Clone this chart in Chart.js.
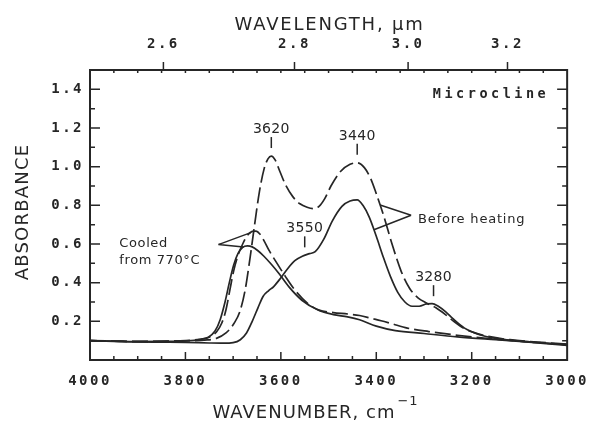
<!DOCTYPE html>
<html>
<head>
<meta charset="utf-8">
<script src="https://cdn.jsdelivr.net/npm/chart.js@4.4.1/dist/chart.umd.min.js"></script>
<style>
  html, body { margin: 0; padding: 0; background: #fff; }
  canvas { display: block; }
</style>
</head>
<body>
<canvas id="spectrum" width="597" height="422"></canvas>
<script>
// axis ticks
const wavenumberTicks = [4000, 3800, 3600, 3400, 3200, 3000];
const wavelengthTicks = [2.6, 2.8, 3.0, 3.2];
const absorbanceTicks = [0.2, 0.4, 0.6, 0.8, 1.0, 1.2, 1.4];

// before heating, dashed trace
const beforeDashWn  = [4000, 3950, 3900, 3850, 3800, 3760, 3735, 3715, 3698, 3686, 3675, 3665, 3655, 3645, 3635, 3627, 3620, 3612, 3602, 3590, 3575, 3560, 3545, 3532, 3520, 3508, 3495, 3475, 3455, 3440, 3425, 3412, 3400, 3385, 3367, 3348, 3330, 3312, 3295, 3275, 3255, 3235, 3215, 3190, 3165, 3120, 3070, 3000];
const beforeDashAbs = [0.100, 0.097, 0.095, 0.096, 0.099, 0.103, 0.112, 0.14, 0.19, 0.25, 0.36, 0.52, 0.70, 0.87, 0.99, 1.04, 1.055, 1.035, 0.975, 0.905, 0.845, 0.808, 0.79, 0.783, 0.795, 0.835, 0.90, 0.975, 1.012, 1.02, 0.995, 0.94, 0.86, 0.75, 0.60, 0.46, 0.37, 0.32, 0.295, 0.27, 0.235, 0.195, 0.162, 0.138, 0.122, 0.105, 0.094, 0.082];

// before heating, solid trace
const beforeSolidWn  = [4000, 3950, 3900, 3850, 3800, 3750, 3720, 3700, 3685, 3672, 3660, 3648, 3637, 3626, 3615, 3600, 3585, 3570, 3555, 3540, 3528, 3510, 3492, 3472, 3455, 3440, 3428, 3415, 3400, 3385, 3370, 3355, 3340, 3325, 3310, 3295, 3283, 3270, 3255, 3240, 3215, 3185, 3150, 3100, 3050, 3000];
const beforeSolidAbs = [0.100, 0.096, 0.093, 0.092, 0.091, 0.088, 0.087, 0.09, 0.105, 0.14, 0.20, 0.27, 0.33, 0.358, 0.38, 0.425, 0.475, 0.515, 0.537, 0.55, 0.56, 0.625, 0.72, 0.795, 0.822, 0.828, 0.80, 0.74, 0.64, 0.53, 0.43, 0.35, 0.30, 0.278, 0.278, 0.29, 0.292, 0.278, 0.25, 0.215, 0.165, 0.132, 0.112, 0.098, 0.088, 0.08];

// cooled from 770 °C, dashed trace
const cooledDashWn  = [4000, 3950, 3900, 3850, 3800, 3770, 3750, 3735, 3724, 3715, 3707, 3699, 3690, 3680, 3670, 3660, 3652, 3644, 3636, 3625, 3608, 3590, 3570, 3545, 3520, 3490, 3460, 3435, 3410, 3390, 3368, 3335, 3290, 3230, 3160, 3100, 3050, 3000];
const cooledDashAbs = [0.100, 0.098, 0.096, 0.097, 0.100, 0.107, 0.118, 0.145, 0.19, 0.26, 0.36, 0.46, 0.54, 0.60, 0.645, 0.665, 0.667, 0.652, 0.62, 0.568, 0.50, 0.43, 0.36, 0.295, 0.258, 0.245, 0.238, 0.23, 0.215, 0.203, 0.188, 0.165, 0.147, 0.128, 0.11, 0.098, 0.088, 0.08];

// cooled from 770 °C, solid trace
const cooledSolidWn  = [4000, 3950, 3900, 3850, 3800, 3770, 3752, 3738, 3727, 3717, 3708, 3699, 3690, 3680, 3670, 3660, 3648, 3636, 3620, 3604, 3583, 3556, 3521, 3490, 3460, 3435, 3400, 3360, 3300, 3230, 3150, 3100, 3050, 3000];
const cooledSolidAbs = [0.100, 0.098, 0.095, 0.096, 0.099, 0.106, 0.118, 0.15, 0.21, 0.30, 0.40, 0.49, 0.55, 0.583, 0.59, 0.585, 0.565, 0.538, 0.495, 0.447, 0.378, 0.309, 0.257, 0.235, 0.223, 0.208, 0.175, 0.152, 0.137, 0.12, 0.105, 0.096, 0.086, 0.076];

// band positions marked on the traces
const peakLabels = ['3620', '3440', '3550', '3280'];
const peakWavenumbers = [3620, 3440, 3550, 3280];
const peakSeries = [0, 0, 1, 1];

const INK = '#262626';
const DASH = [16, 5];

const series = [
  { wn: beforeDashWn, abs: beforeDashAbs, dash: DASH },
  { wn: beforeSolidWn, abs: beforeSolidAbs, dash: [] },
  { wn: cooledDashWn, abs: cooledDashAbs, dash: DASH },
  { wn: cooledSolidWn, abs: cooledSolidAbs, dash: [] }
];

// absorbance of a trace at a given wavenumber (arrays run high -> low)
function absAt(s, x) {
  const wn = s.wn, a = s.abs;
  for (let i = 0; i < wn.length - 1; i++) {
    if (x <= wn[i] && x >= wn[i + 1]) {
      const t = (wn[i] - x) / (wn[i] - wn[i + 1]);
      return a[i] + t * (a[i + 1] - a[i]);
    }
  }
  return a[a.length - 1];
}

function spacedText(ctx, text, x, y, spacing) {
  ctx.letterSpacing = spacing + 'px';
  ctx.fillText(text, x, y);
  ctx.letterSpacing = '0px';
}

const decorations = {
  id: 'decorations',
  beforeDraw(chart) {
    // wide-set lettering for the tick labels
    chart.ctx.letterSpacing = '2.5px';
  },
  afterDraw(chart) {
    const ctx = chart.ctx;
    const area = chart.chartArea;
    const xs = chart.scales.x, ys = chart.scales.y;
    ctx.save();
    ctx.letterSpacing = '0px';
    ctx.strokeStyle = INK;
    ctx.fillStyle = INK;
    ctx.lineCap = 'butt';

    // frame
    ctx.lineWidth = 2;
    ctx.strokeRect(area.left, area.top, area.right - area.left, area.bottom - area.top);

    // tick marks
    ctx.lineWidth = 1.5;
    ctx.beginPath();
    for (let w = 3950; w > 3000; w -= 50) {
      const px = xs.getPixelForValue(w);
      const major = w % 200 === 0;
      ctx.moveTo(px, area.bottom);
      ctx.lineTo(px, area.bottom - (major ? 8 : 4));
      ctx.moveTo(px, area.top);
      ctx.lineTo(px, area.top + 3);
    }
    wavelengthTicks.forEach(l => {
      const px = xs.getPixelForValue(10000 / l);
      ctx.moveTo(px, area.top);
      ctx.lineTo(px, area.top - 8);
    });
    for (let k = 1; k <= 14; k++) {
      const py = ys.getPixelForValue(k / 10);
      const len = k % 2 === 0 ? 10 : 5;
      ctx.moveTo(area.left, py);
      ctx.lineTo(area.left + len, py);
      ctx.moveTo(area.right, py);
      ctx.lineTo(area.right - len, py);
    }
    ctx.stroke();

    // axis titles
    ctx.font = '18px "DejaVu Sans"';
    ctx.textAlign = 'center';
    ctx.textBaseline = 'alphabetic';
    const midX = (area.left + area.right) / 2;
    spacedText(ctx, 'WAVELENGTH, µm', midX + 1, 30, 1.8);

    ctx.save();
    ctx.translate(28, (area.top + area.bottom) / 2 - 3);
    ctx.rotate(-Math.PI / 2);
    spacedText(ctx, 'ABSORBANCE', 0, 0, 1.2);
    ctx.restore();

    ctx.letterSpacing = '1px';
    const main = 'WAVENUMBER, cm';
    const mainW = ctx.measureText(main).width;
    ctx.font = '13px "DejaVu Sans"';
    ctx.letterSpacing = '1px';
    const sup = '\u22121';
    const supW = ctx.measureText(sup).width;
    const startX = midX - 14 - (mainW + supW) / 2;
    ctx.textAlign = 'left';
    ctx.font = '18px "DejaVu Sans"';
    spacedText(ctx, main, startX, 418, 1);
    ctx.font = '13px "DejaVu Sans"';
    spacedText(ctx, sup, startX + mainW + 2, 405, 1);

    // sample name
    ctx.font = 'bold 13.5px "DejaVu Sans Mono"';
    ctx.textAlign = 'right';
    spacedText(ctx, 'Microcline', area.right - 18, area.top + 28, 3.5);

    // band markers
    ctx.font = '14px "DejaVu Sans"';
    ctx.textAlign = 'center';
    ctx.lineWidth = 1.5;
    peakLabels.forEach((lab, i) => {
      const w = peakWavenumbers[i];
      const px = xs.getPixelForValue(w);
      const py = ys.getPixelForValue(absAt(series[peakSeries[i]], w)) - 8;
      ctx.beginPath();
      ctx.moveTo(px, py);
      ctx.lineTo(px, py - 11);
      ctx.stroke();
      spacedText(ctx, lab, px, py - 15, 0.3);
    });

    // pointer callouts
    const pointer = (apexW, apexA, targets) => {
      const ax = xs.getPixelForValue(apexW), ay = ys.getPixelForValue(apexA);
      ctx.beginPath();
      targets.forEach(([si, w]) => {
        ctx.moveTo(ax, ay);
        ctx.lineTo(xs.getPixelForValue(w), ys.getPixelForValue(absAt(series[si], w)));
      });
      ctx.stroke();
      return [ax, ay];
    };
    const [cx, cy] = pointer(3731, 0.597, [[2, 3663], [3, 3678]]);
    const [bx, by] = pointer(3327, 0.749, [[0, 3392], [1, 3405]]);

    ctx.font = '13px "DejaVu Sans"';
    ctx.textAlign = 'left';
    spacedText(ctx, 'Cooled', cx - 99, cy + 2, 0.6);
    spacedText(ctx, 'from 770°C', cx - 99, cy + 19, 0.6);
    ctx.textBaseline = 'middle';
    spacedText(ctx, 'Before heating', bx + 7, by + 4, 0.8);

    ctx.restore();
  }
};

const tickFont = { family: 'DejaVu Sans Mono', size: 14, weight: 'bold' };

new Chart(document.getElementById('spectrum'), {
  type: 'line',
  data: {
    datasets: series.map(s => ({
      data: s.wn.map((w, i) => ({ x: w, y: s.abs[i] })),
      borderColor: INK,
      borderWidth: 1.7,
      borderDash: s.dash,
      pointRadius: 0,
      fill: false,
      cubicInterpolationMode: 'monotone'
    }))
  },
  options: {
    responsive: false,
    animation: false,
    devicePixelRatio: 1,
    layout: { padding: { left: 0, right: 27, top: 0, bottom: 0 } },
    plugins: { legend: { display: false }, tooltip: { enabled: false } },
    scales: {
      x: {
        type: 'linear',
        position: 'bottom',
        min: 3000,
        max: 4000,
        reverse: true,
        grid: { display: false, drawTicks: false },
        border: { display: false },
        afterBuildTicks: s => { s.ticks = wavenumberTicks.map(v => ({ value: v })); },
        afterFit: s => { s.height = 62; },
        ticks: { autoSkip: false, maxRotation: 0, padding: 13, color: INK, font: tickFont, callback: v => String(v) }
      },
      x2: {
        type: 'linear',
        position: 'top',
        min: 3000,
        max: 4000,
        reverse: true,
        grid: { display: false, drawTicks: false },
        border: { display: false },
        afterBuildTicks: s => { s.ticks = wavelengthTicks.map(l => ({ value: 10000 / l })); },
        afterFit: s => { s.height = 70; },
        ticks: { autoSkip: false, maxRotation: 0, padding: 17, color: INK, font: tickFont, callback: v => (10000 / v).toFixed(1) }
      },
      y: {
        type: 'linear',
        position: 'left',
        min: 0,
        max: 1.5,
        grid: { display: false, drawTicks: false },
        border: { display: false },
        afterBuildTicks: s => { s.ticks = absorbanceTicks.map(v => ({ value: v })); },
        afterFit: s => { s.width = 90; },
        ticks: { autoSkip: false, padding: 6, color: INK, font: tickFont, callback: v => v.toFixed(1) }
      }
    }
  },
  plugins: [decorations]
});
</script>
</body>
</html>
